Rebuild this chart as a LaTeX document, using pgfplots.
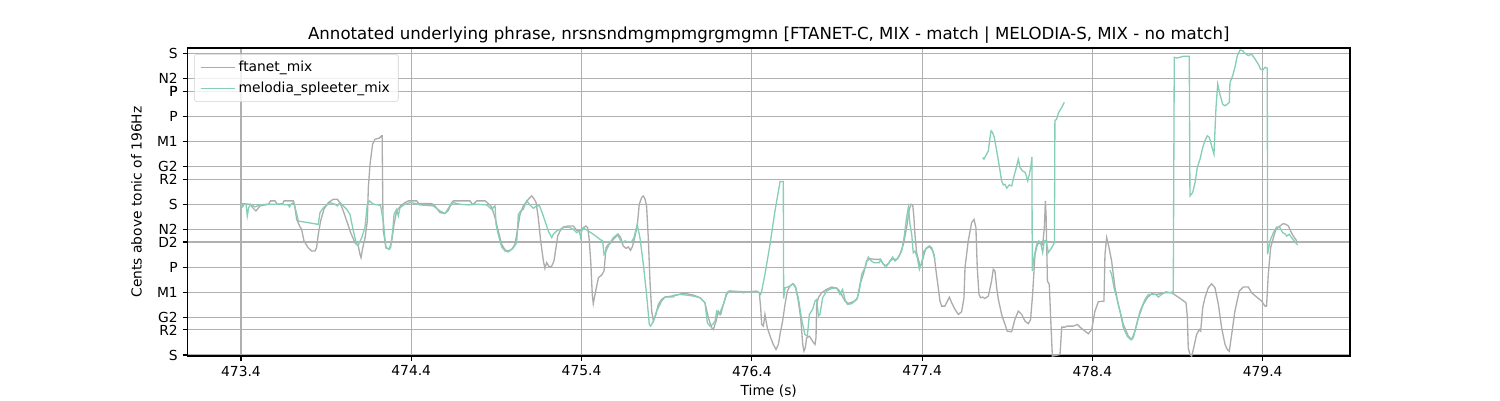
\documentclass[border=0pt]{standalone}
\usepackage{fontspec}
\setmainfont{DejaVu Sans}
\usepackage{pgfplots}
\pgfplotsset{compat=1.18}
\definecolor{ftgray}{RGB}{172,172,172}
\definecolor{melgreen}{RGB}{132,207,181}
\definecolor{gridgray}{RGB}{176,176,176}
\definecolor{legframe}{RGB}{210,210,210}
\begin{document}
\begin{tikzpicture}[x=1bp,y=1bp]
\path[use as bounding box] (0,0) rectangle (1080,288);
\begin{axis}[
  at={(135bp,31.68bp)}, anchor=south west,
  scale only axis, width=837bp, height=221.76bp,
  xmin=473.086, xmax=479.913, ymin=-8, ymax=2444,
  xtick={473.4,474.4,475.4,476.4,477.4,478.4,479.4},
  xticklabels={473.4,474.4,475.4,476.4,477.4,478.4,479.4},
  ytick={0,200,300,500,700,900,1000,1200,1400,1500,1700,1900,2100,2100,2200,2400},
  yticklabels={S,R2,G2,M1,P,D2,N2,S,R2,G2,M1,P,P,P,N2,S},
  grid=major, major grid style={gridgray, line width=0.8bp},
  tick align=outside, major tick length=3.5bp,
  tick style={black, line width=0.8bp},
  axis line style={line width=0.8bp},
  tick pos=left,
  ticklabel style={font=\fontsize{10}{12}\selectfont},
  legend cell align=left,
  legend style={at={(0.0056,0.9805)}, anchor=north west, draw=legframe,
    rounded corners=2bp, fill=white, fill opacity=0.8, text opacity=1,
    font=\fontsize{10}{12}\selectfont, row sep=2bp, inner xsep=4bp, inner ysep=3bp},
  legend image code/.code={\draw[#1] (0bp,0bp) -- (20bp,0bp); \path (0bp,0bp) -- (25bp,0bp);},
]
\addplot[ftgray, line width=0.95bp] coordinates {
(473.400,1205)(473.453,1200)(473.472,1168)(473.488,1147)(473.512,1187)(473.561,1200)(473.574,1227)(473.600,1227)
(473.613,1200)(473.645,1205)(473.653,1227)(473.707,1227)(473.717,1173)(473.727,1080)(473.747,1019)(473.756,1001)
(473.770,908)(473.795,854)(473.815,828)(473.835,828)(473.844,854)(473.854,961)(473.868,1067)(473.887,1160)
(473.913,1213)(473.942,1240)(473.966,1240)(473.981,1213)(474.001,1147)(474.021,1067)(474.044,974)(474.070,894)
(474.089,867)(474.099,801)(474.105,775)(474.115,854)(474.129,934)(474.142,1067)(474.148,1333)(474.158,1519)
(474.173,1678)(474.187,1718)(474.212,1726)(474.226,1745)(474.229,1745)(474.233,1200)(474.236,987)(474.252,854)
(474.271,841)(474.285,908)(474.299,1040)(474.314,1147)(474.338,1187)(474.363,1213)(474.383,1227)(474.432,1227)
(474.447,1200)(474.451,1205)(474.520,1205)(474.539,1187)(474.569,1134)(474.598,1126)(474.618,1152)(474.637,1213)
(474.647,1227)(474.745,1227)(474.759,1200)(474.769,1205)(474.784,1227)(474.833,1227)(474.853,1205)(474.872,1179)
(474.892,1094)(474.911,987)(474.931,881)(474.951,836)(474.970,828)(474.990,841)(475.009,881)(475.023,987)
(475.039,1120)(475.058,1187)(475.088,1240)(475.107,1267)(475.123,1240)(475.133,1213)(475.146,1094)(475.160,908)
(475.176,748)(475.185,690)(475.195,735)(475.211,700)(475.225,708)(475.238,748)(475.250,854)(475.260,947)
(475.274,987)(475.293,1019)(475.323,1027)(475.352,1027)(475.371,993)(475.391,987)(475.411,1014)(475.426,1027)
(475.436,1014)(475.444,934)(475.454,748)(475.463,482)(475.469,408)(475.479,482)(475.499,615)(475.518,636)
(475.532,668)(475.544,854)(475.557,881)(475.567,886)(475.587,921)(475.616,961)(475.630,934)(475.645,868)
(475.661,849)(475.675,860)(475.688,833)(475.700,868)(475.714,947)(475.727,1027)(475.739,1200)(475.753,1253)
(475.763,1266)(475.773,1240)(475.782,1187)(475.792,934)(475.802,589)(475.812,349)(475.822,270)(475.837,323)
(475.851,403)(475.870,442)(475.890,461)(475.929,469)(475.959,477)(475.988,488)(476.017,488)(476.056,477)
(476.096,456)(476.125,416)(476.145,296)(476.164,217)(476.174,203)(476.190,270)(476.203,349)(476.217,323)
(476.233,403)(476.252,482)(476.268,509)(476.311,504)(476.350,496)(476.389,504)(476.428,509)(476.444,496)
(476.452,376)(476.458,243)(476.468,230)(476.477,323)(476.491,217)(476.511,137)(476.526,84)(476.542,44)
(476.556,84)(476.569,190)(476.581,270)(476.595,403)(476.609,509)(476.624,549)(476.644,567)(476.659,535)
(476.673,429)(476.687,296)(476.699,84)(476.706,31)(476.714,57)(476.722,137)(476.738,150)(476.757,110)
(476.771,84)(476.777,137)(476.781,403)(476.791,456)(476.810,496)(476.839,522)(476.869,541)(476.888,535)
(476.908,522)(476.927,482)(476.947,429)(476.967,411)(476.996,424)(477.020,450)(477.035,562)(477.055,642)
(477.074,748)(477.094,767)(477.123,761)(477.153,761)(477.162,743)(477.182,708)(477.202,727)(477.221,761)
(477.251,761)(477.270,801)(477.290,881)(477.309,1014)(477.325,1160)(477.335,1200)(477.345,1195)(477.352,1094)
(477.358,961)(477.368,815)(477.388,708)(477.397,722)(477.411,801)(477.423,849)(477.442,868)(477.456,854)
(477.470,801)(477.482,668)(477.495,535)(477.505,429)(477.515,389)(477.534,389)(477.560,461)(477.574,416)
(477.593,363)(477.613,323)(477.632,344)(477.646,456)(477.652,695)(477.671,908)(477.691,1054)(477.705,1080)
(477.716,1014)(477.724,695)(477.734,482)(477.744,456)(477.756,461)(477.769,450)(477.789,469)(477.808,589)
(477.818,682)(477.828,668)(477.838,535)(477.848,442)(477.867,323)(477.887,243)(477.900,190)(477.926,185)
(477.945,283)(477.965,349)(477.985,323)(478.004,270)(478.024,249)(478.037,283)(478.049,482)(478.063,801)
(478.077,881)(478.092,894)(478.108,876)(478.118,1014)(478.124,1227)(478.128,1120)(478.136,589)(478.147,562)
(478.155,296)(478.165,-9)(478.210,4)(478.220,222)(478.239,222)(478.253,230)(478.288,230)(478.312,243)
(478.327,222)(478.357,190)(478.376,169)(478.396,203)(478.415,349)(478.435,424)(478.468,429)(478.474,801)
(478.484,934)(478.498,854)(478.513,748)(478.533,535)(478.552,403)(478.582,243)(478.611,150)(478.631,123)
(478.650,190)(478.670,296)(478.699,403)(478.722,456)(478.748,488)(478.777,482)(478.826,496)(478.865,496)
(478.895,469)(478.924,442)(478.950,416)(478.958,296)(478.963,57)(478.973,4)(478.983,-9)(478.993,44)
(479.012,163)(479.028,203)(479.036,190)(479.048,376)(479.061,456)(479.081,536)(479.100,567)(479.120,536)
(479.140,403)(479.159,217)(479.179,84)(479.192,44)(479.204,30)(479.218,163)(479.237,349)(479.263,509)
(479.286,541)(479.316,541)(479.335,496)(479.365,461)(479.394,429)(479.414,389)(479.423,389)(479.433,642)
(479.447,854)(479.463,934)(479.478,1001)(479.502,1027)(479.521,1046)(479.537,1040)(479.551,1027)(479.564,987)
(479.580,947)(479.600,908)
};
\addlegendentry{ftanet\_mix}
\addplot[melgreen, line width=0.95bp] coordinates {
(473.400,1200)(473.410,1179)(473.418,1200)(473.430,1200)(473.437,1107)(473.445,1173)(473.457,1200)(473.482,1179)
(473.512,1195)(473.551,1200)(473.629,1200)(473.678,1195)(473.684,1179)(473.698,1205)(473.711,1213)(473.723,1147)
(473.737,1067)(473.756,1062)(473.854,1040)(473.864,1134)(473.884,1173)(473.923,1213)(473.952,1200)(473.966,1187)
(473.981,1213)(474.001,1187)(474.021,1160)(474.040,1120)(474.060,987)(474.079,881)(474.091,881)(474.109,934)
(474.128,1014)(474.142,1200)(474.154,1227)(474.178,1200)(474.207,1195)(474.220,1187)(474.236,1067)(474.250,854)
(474.265,846)(474.279,854)(474.291,987)(474.299,1120)(474.314,1160)(474.324,1107)(474.334,1173)(474.363,1200)
(474.393,1213)(474.432,1205)(474.451,1195)(474.529,1187)(474.569,1147)(474.598,1126)(474.627,1187)(474.647,1213)
(474.686,1200)(474.735,1195)(474.784,1200)(474.843,1195)(474.872,1160)(474.892,1187)(474.898,1040)(474.911,961)
(474.931,860)(474.951,828)(474.970,820)(475.000,854)(475.019,894)(475.029,1120)(475.043,1147)(475.058,1160)
(475.078,1227)(475.097,1195)(475.117,1168)(475.127,1179)(475.146,1187)(475.152,1195)(475.172,1120)(475.205,987)
(475.225,934)(475.234,961)(475.254,987)(475.274,1001)(475.293,1014)(475.323,1019)(475.352,1001)(475.371,974)
(475.387,987)(475.395,934)(475.401,987)(475.411,1014)(475.424,1001)(475.469,961)(475.508,921)(475.524,908)
(475.532,801)(475.544,828)(475.567,894)(475.587,934)(475.610,961)(475.636,894)(475.655,908)(475.675,900)
(475.694,902)(475.708,934)(475.720,1001)(475.727,1040)(475.743,934)(475.763,722)(475.782,482)(475.798,243)
(475.806,230)(475.822,270)(475.841,349)(475.870,429)(475.890,461)(475.939,461)(475.949,477)(475.978,482)
(476.017,477)(476.056,469)(476.096,456)(476.125,416)(476.139,256)(476.154,230)(476.170,243)(476.184,270)
(476.194,349)(476.209,323)(476.233,403)(476.252,496)(476.268,509)(476.350,504)(476.428,504)(476.444,496)
(476.452,482)(476.458,509)(476.477,642)(476.507,881)(476.536,1147)(476.566,1381)(476.585,1381)(476.587,450)
(476.595,535)(476.609,540)(476.624,549)(476.640,567)(476.653,549)(476.673,456)(476.693,280)(476.712,163)
(476.726,150)(476.738,323)(476.757,363)(476.771,429)(476.781,442)(476.791,310)(476.800,323)(476.816,456)
(476.839,509)(476.869,530)(476.898,535)(476.918,482)(476.933,522)(476.947,442)(476.961,403)(476.986,408)
(477.016,442)(477.031,509)(477.045,642)(477.065,695)(477.084,780)(477.098,753)(477.117,735)(477.149,735)
(477.157,761)(477.172,722)(477.192,708)(477.211,748)(477.227,780)(477.241,748)(477.260,775)(477.280,828)
(477.294,934)(477.309,1094)(477.319,1173)(477.329,1040)(477.339,961)(477.348,815)(477.358,828)(477.372,775)
(477.384,682)(477.397,735)(477.411,828)(477.431,854)(477.446,860)(477.462,828)(477.476,761)
};
\addlegendentry{melodia\_spleeter\_mix}
\addplot[melgreen, line width=0.95bp, forget plot] coordinates {
(477.756,1572)(477.763,1559)(477.779,1599)(477.789,1625)(477.799,1732)(477.805,1785)(477.814,1771)(477.824,1732)
(477.838,1625)(477.853,1506)(477.867,1386)(477.877,1354)(477.887,1359)(477.897,1328)(477.912,1354)(477.926,1346)
(477.940,1426)(477.951,1479)(477.965,1559)(477.975,1492)(477.990,1466)(478.006,1452)(478.020,1386)(478.030,1439)
(478.039,1506)(478.045,1577)(478.047,668)(478.057,775)(478.073,881)(478.085,908)(478.096,894)(478.108,815)
(478.118,908)(478.128,913)(478.141,815)(478.161,854)(478.177,894)(478.180,1865)(478.190,1878)(478.202,1931)
(478.220,1971)(478.235,2011)
};
\addplot[melgreen, line width=0.95bp, forget plot] coordinates {
(478.503,674)(478.513,642)(478.527,535)(478.543,456)(478.562,349)(478.582,217)(478.605,150)(478.625,123)
(478.640,137)(478.660,243)(478.680,349)(478.709,442)(478.729,482)(478.758,482)(478.773,482)(478.787,461)
(478.807,482)(478.832,504)(478.856,496)(478.875,504)(478.881,2370)(478.895,2364)(478.914,2370)(478.934,2378)
(478.969,2378)(478.973,1266)(478.989,1293)(479.003,1373)(479.016,1492)(479.032,1559)(479.048,1652)(479.061,1705)
(479.075,1745)(479.087,1732)(479.100,1665)(479.114,1599)(479.126,1971)(479.136,2157)(479.149,2077)(479.165,1997)
(479.179,1984)(479.192,1997)(479.204,2011)(479.208,2170)(479.224,2223)(479.237,2290)(479.251,2383)(479.267,2428)
(479.282,2423)(479.296,2401)(479.316,2383)(479.335,2396)(479.355,2356)(479.374,2316)(479.388,2276)(479.400,2269)
(479.414,2290)(479.427,2284)(479.429,801)(479.443,908)(479.463,974)(479.482,1019)(479.502,1014)(479.517,974)
(479.531,966)(479.541,947)(479.556,961)(479.570,934)(479.590,900)(479.605,876)
};
\end{axis}
\node[anchor=base, font=\fontsize{12}{14}\selectfont] at (553.5,259.6) {Annotated underlying phrase, nrsnsndmgmpmgrgmgmn [FTANET-C, MIX - match | MELODIA-S, MIX - no match]};
\node[anchor=base, font=\fontsize{10}{12}\selectfont] at (553.5,3.2) {Time (s)};
\node[anchor=base, rotate=90, font=\fontsize{10}{12}\selectfont] at (102,142.56) {Cents above tonic of 196Hz};
\end{tikzpicture}
\end{document}
